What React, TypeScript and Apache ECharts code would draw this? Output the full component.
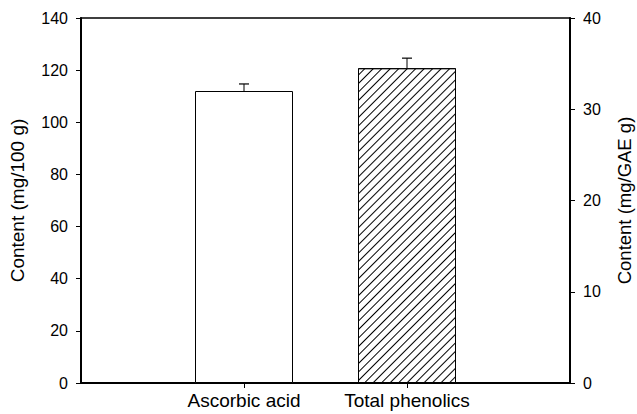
import React, { useEffect, useRef } from "react";
import * as echarts from "echarts";

const categories = ["Ascorbic acid", "Total phenolics"];
const categoryPositions = [1, 2];
const ascorbicValue = [112.0];
const ascorbicError = [2.7];
const phenolicsValue = [34.5];
const phenolicsError = [1.1];
const leftTicks = [0, 20, 40, 60, 80, 100, 120, 140];
const rightTicks = [0, 10, 20, 30, 40];

const FONT = "'Liberation Sans', Arial, sans-serif";

function errorRender(params: any, api: any) {
  const x = api.value(0);
  const v = api.value(1);
  const e = api.value(2);
  const p0 = api.coord([x, v]);
  const p1 = api.coord([x, v + e]);
  const half = 5;
  return {
    type: "group",
    children: [
      { type: "line", shape: { x1: p0[0], y1: p0[1], x2: p1[0], y2: p1[1] }, style: { stroke: "#000", lineWidth: 1 } },
      { type: "line", shape: { x1: p1[0] - half, y1: p1[1], x2: p1[0] + half, y2: p1[1] }, style: { stroke: "#000", lineWidth: 1.2 } },
    ],
  };
}

export default function App() {
  const ref = useRef<HTMLDivElement>(null);
  useEffect(() => {
    if (!ref.current) return;
    const chart = echarts.init(ref.current, null, { renderer: "svg" });
    const option: any = {
      animation: false,
      backgroundColor: "#fff",
      grid: {
        left: 81,
        right: 67,
        top: 18,
        bottom: 31,
        outerBoundsMode: "none",
        containLabel: false,
        show: true,
        borderColor: "#000",
        borderWidth: 1.5,
        backgroundColor: "transparent",
      },
      xAxis: {
        type: "value",
        min: 0,
        max: 3,
        interval: 1,
        splitLine: { show: false },
        axisLine: { show: true, lineStyle: { color: "#000", width: 2 } },
        axisTick: { show: true, length: 5, customValues: categoryPositions, lineStyle: { color: "#000", width: 1 } },
        axisLabel: {
          customValues: categoryPositions,
          formatter: (v: number) => categories[Math.round(v) - 1] ?? "",
          color: "#000",
          fontFamily: FONT,
          fontSize: 19,
          margin: 8,
        },
      },
      yAxis: [
        {
          type: "value",
          min: 0,
          max: 140,
          interval: 20,
          position: "left",
          splitLine: { show: false },
          axisLine: { show: true, lineStyle: { color: "#000", width: 2 } },
          axisTick: { show: true, length: 5, lineStyle: { color: "#000", width: 1 } },
          axisLabel: { color: "#000", fontFamily: FONT, fontSize: 16, margin: 13 },
          name: "Content (mg/100 g)",
          nameLocation: "middle",
          nameRotate: 90,
          nameGap: 54,
          nameTextStyle: { color: "#000", fontFamily: FONT, fontSize: 19 },
        },
        {
          type: "value",
          min: 0,
          max: 40,
          interval: 10,
          position: "right",
          splitLine: { show: false },
          axisLine: { show: true, lineStyle: { color: "#000", width: 2 } },
          axisTick: { show: true, length: 5, lineStyle: { color: "#000", width: 1 } },
          axisLabel: { color: "#000", fontFamily: FONT, fontSize: 16, margin: 13 },
          name: "Content (mg/GAE g)",
          nameLocation: "middle",
          nameRotate: 90,
          nameGap: 45,
          nameTextStyle: { color: "#000", fontFamily: FONT, fontSize: 18.5 },
        },
      ],
      series: [
        {
          type: "bar",
          name: categories[0],
          yAxisIndex: 0,
          barWidth: 98,
          barGap: "-100%",
          data: [[categoryPositions[0], ascorbicValue[0]]],
          itemStyle: { color: "#fff", borderColor: "#000", borderWidth: 1 },
          z: 3,
        },
        {
          type: "bar",
          name: categories[1],
          yAxisIndex: 1,
          barWidth: 98,
          barGap: "-100%",
          data: [[categoryPositions[1], phenolicsValue[0]]],
          itemStyle: {
            color: "#fff",
            borderColor: "#000",
            borderWidth: 1,
            decal: {
              symbol: "rect",
              symbolSize: 1,
              color: "#000",
              backgroundColor: "transparent",
              dashArrayX: [1, 0],
              dashArrayY: [1, 5],
              rotation: -Math.PI / 4,
            },
          },
          z: 3,
        },
        {
          type: "custom",
          yAxisIndex: 0,
          renderItem: errorRender,
          data: [[categoryPositions[0], ascorbicValue[0], ascorbicError[0]]],
          z: 4,
        },
        {
          type: "custom",
          yAxisIndex: 1,
          renderItem: errorRender,
          data: [[categoryPositions[1], phenolicsValue[0], phenolicsError[0]]],
          z: 4,
        },
      ],
    };
    chart.setOption(option);
    return () => chart.dispose();
  }, []);
  return <div ref={ref} style={{ position: "absolute", left: 0, top: 0, width: 637, height: 414 }} />;
}

export { leftTicks, rightTicks };
